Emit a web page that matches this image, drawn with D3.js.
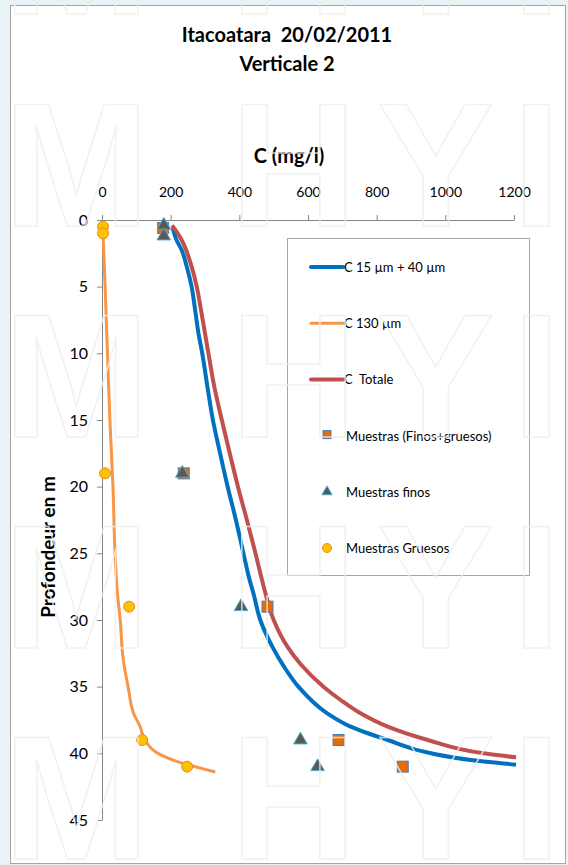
<!DOCTYPE html>
<html lang="es">
<head>
<meta charset="utf-8">
<title>Itacoatara 20/02/2011 - Verticale 2</title>
<script src="https://cdn.jsdelivr.net/npm/d3@7"></script>
<style>
  html, body { margin: 0; padding: 0; background: #e9f3f6; }
  svg { display: block; font-family: Lato, "Open Sans", sans-serif; }
</style>
</head>
<body>
<script>
// ---- data (C in mg/l, depth in m) ----
var xTicks = [0, 200, 400, 600, 800, 1000, 1200];
var yTicks = [0, 5, 10, 15, 20, 25, 30, 35, 40, 45];

// C 15 um + 40 um
var fineC     = [206, 217, 232, 247, 261, 271, 281, 292, 307, 323, 344, 366, 390, 412, 430, 441, 461, 496, 530, 572, 656, 724, 832, 958, 1074, 1206];
var fineDepth = [0.6, 1.5, 2.25, 3.5, 5, 6.7, 8.5, 10, 12.5, 15, 17.5, 20, 22.5, 25, 27, 28, 30, 32, 33.5, 35, 37, 38, 39, 40, 40.5, 40.85];

// C 130 um
var coarseC     = [3, 6, 9, 16, 23, 32, 38, 45, 53, 62, 76, 92, 111, 125, 163, 218, 330];
var coarseDepth = [1, 3, 5, 10, 15, 20, 25, 28, 30, 33, 35, 37, 38, 39, 40, 40.6, 41.4];

// C Totale
var totalC     = [204, 218, 232, 261, 276, 288, 300, 310, 327, 349, 372, 396, 422, 447, 466, 476, 500, 540, 578, 645, 695, 753, 832, 949, 1112, 1206];
var totalDepth = [0.4, 0.9, 1.5, 3.5, 5, 6.7, 8.5, 10, 12.5, 15, 17.5, 20, 22.5, 25, 27, 28, 30, 32, 33.3, 35, 36, 37, 38, 39, 40, 40.3];

// samples
var sampTotalC = [178, 238, 482, 689, 876];
var sampTotalD = [0.6, 19, 29, 39, 41];
var sampFineC  = [180, 180, 234, 405, 578, 628];
var sampFineD  = [0.4, 1.2, 19, 29, 39, 41];
var sampCoarseC = [3, 3, 9, 79, 117, 248];
var sampCoarseD = [0.5, 1.0, 19, 29, 39, 41];

var legendLabels = ["C 15 \u00b5m + 40 \u00b5m", "C 130 \u00b5m", "C  Totale",
                    "Muestras (Finos+gruesos)", "Muestras finos", "Muestras Gruesos"];
var watermarkLetters = ["M", "H", "Y", "I"];

// ---- canvas ----
var w = 568, h = 865;
var svg = d3.select("body").append("svg").attr("width", w).attr("height", h);

// chart frame
svg.append("rect")
  .attr("x", 10.5).attr("y", 5.5).attr("width", 555).attr("height", 858)
  .attr("fill", "#ffffff").attr("stroke", "#a6a6a6").attr("stroke-width", 1);

// scales
var xScale = d3.scaleLinear().domain([0, 1200]).range([102, 514]);
var yScale = d3.scaleLinear().domain([0, 45]).range([220, 820]);

function zip(a, b) { return a.map(function(v, i) { return [v, b[i]]; }); }

// titles
svg.append("text").attr("x", 287).attr("y", 42).attr("text-anchor", "middle")
  .attr("font-size", 20).attr("font-weight", "bold").style("white-space", "pre")
  .text("Itacoatara  20/02/2011");
svg.append("text").attr("x", 287).attr("y", 71).attr("text-anchor", "middle")
  .attr("font-size", 20).attr("font-weight", "bold").text("Verticale 2");
svg.append("text").attr("x", 289).attr("y", 163).attr("text-anchor", "middle")
  .attr("font-size", 20).attr("font-weight", "bold").text("C (mg/l)");
svg.append("text")
  .attr("transform", "translate(55,547) rotate(-90)")
  .attr("text-anchor", "middle").attr("font-size", 19).attr("font-weight", "bold")
  .text("Profondeur en m");

// axes
var xAxis = d3.axisTop(xScale).tickValues(xTicks).tickFormat(d3.format("d"))
  .tickSize(5).tickSizeOuter(0).tickPadding(18);
var yAxis = d3.axisLeft(yScale).tickValues(yTicks).tickFormat(d3.format("d"))
  .tickSize(5).tickSizeOuter(0).tickPadding(9);

var gx = svg.append("g").attr("transform", "translate(0,220)").call(xAxis);
var gy = svg.append("g").attr("transform", "translate(102,0)").call(yAxis);
[gx, gy].forEach(function(g) {
  g.select(".domain").attr("stroke", "#868686");
  g.selectAll(".tick line").attr("stroke", "#868686");
  g.selectAll(".tick text").attr("fill", "#000").attr("font-family", "Lato, sans-serif");
});
gx.selectAll(".tick text").attr("font-size", 14);
gy.selectAll(".tick text").attr("font-size", 16);

// lines
var line = d3.line()
  .x(function(d) { return xScale(d[0]); })
  .y(function(d) { return yScale(d[1]); })
  .curve(d3.curveMonotoneY);

svg.append("path").datum(zip(fineC, fineDepth))
  .attr("fill", "none").attr("stroke", "#0070c0").attr("stroke-width", 4).attr("d", line);
svg.append("path").datum(zip(coarseC, coarseDepth))
  .attr("fill", "none").attr("stroke", "#f79646").attr("stroke-width", 3).attr("d", line);
svg.append("path").datum(zip(totalC, totalDepth))
  .attr("fill", "none").attr("stroke", "#c0504d").attr("stroke-width", 4).attr("d", line);

// sample markers
var sq = 11;
svg.append("g").selectAll("rect").data(zip(sampTotalC, sampTotalD)).enter().append("rect")
  .attr("x", function(d) { return xScale(d[0]) - sq / 2; })
  .attr("y", function(d) { return yScale(d[1]) - sq / 2; })
  .attr("width", sq).attr("height", sq)
  .attr("fill", "#e46c0a").attr("stroke", "#4a7ebb").attr("stroke-width", 1);

var tri = d3.symbol().type(d3.symbolTriangle).size(80);
svg.append("g").selectAll("path").data(zip(sampFineC, sampFineD)).enter().append("path")
  .attr("transform", function(d) { return "translate(" + xScale(d[0]) + "," + yScale(d[1]) + ")"; })
  .attr("d", tri)
  .attr("fill", "#595959").attr("stroke", "#4bacc6").attr("stroke-width", 1);

svg.append("g").selectAll("circle").data(zip(sampCoarseC, sampCoarseD)).enter().append("circle")
  .attr("cx", function(d) { return xScale(d[0]); })
  .attr("cy", function(d) { return yScale(d[1]); })
  .attr("r", 5.5)
  .attr("fill", "#ffc000").attr("stroke", "#e98a2a").attr("stroke-width", 1);

// legend
var lg = svg.append("g");
lg.append("rect").attr("x", 287.5).attr("y", 238.5).attr("width", 242).attr("height", 337)
  .attr("fill", "#ffffff").attr("stroke", "#a6a6a6");
var lineColors = ["#0070c0", "#f79646", "#c0504d"];
legendLabels.forEach(function(lbl, i) {
  var yy = 267 + i * 56.2;
  if (i < 3) {
    lg.append("line").attr("x1", 311).attr("x2", 343).attr("y1", yy).attr("y2", yy)
      .attr("stroke", lineColors[i]).attr("stroke-width", i === 1 ? 3 : 4)
      .attr("stroke-linecap", "round");
  } else if (i === 3) {
    lg.append("rect").attr("x", 323).attr("y", yy - 5).attr("width", 8).attr("height", 8)
      .attr("fill", "#e46c0a").attr("stroke", "#4a7ebb");
  } else if (i === 4) {
    lg.append("path").attr("transform", "translate(327," + yy + ")")
      .attr("d", d3.symbol().type(d3.symbolTriangle).size(45))
      .attr("fill", "#595959").attr("stroke", "#4bacc6");
  } else {
    lg.append("circle").attr("cx", 327).attr("cy", yy).attr("r", 4.5)
      .attr("fill", "#ffc000").attr("stroke", "#e98a2a");
  }
  lg.append("text").attr("x", i < 3 ? 344 : 346).attr("y", yy + 5)
    .attr("font-size", 13).attr("fill", "#000").style("white-space", "pre").text(lbl);
});

// faint watermark letters drawn over the chart, as in the picture
var wm = svg.append("g").attr("font-family", "'Liberation Sans', Arial, sans-serif")
  .attr("font-weight", "bold").attr("font-size", 176)
  .attr("fill", "none").attr("stroke", "#eeeeee").attr("stroke-width", 1.5).attr("stroke-opacity", 0.8);
var wmX = [3, 230, 377, 512];
[14, 226, 437, 648, 859].forEach(function(base) {
  watermarkLetters.forEach(function(ch, i) {
    wm.append("text").attr("x", wmX[i]).attr("y", base).text(ch);
  });
});
</script>
</body>
</html>
